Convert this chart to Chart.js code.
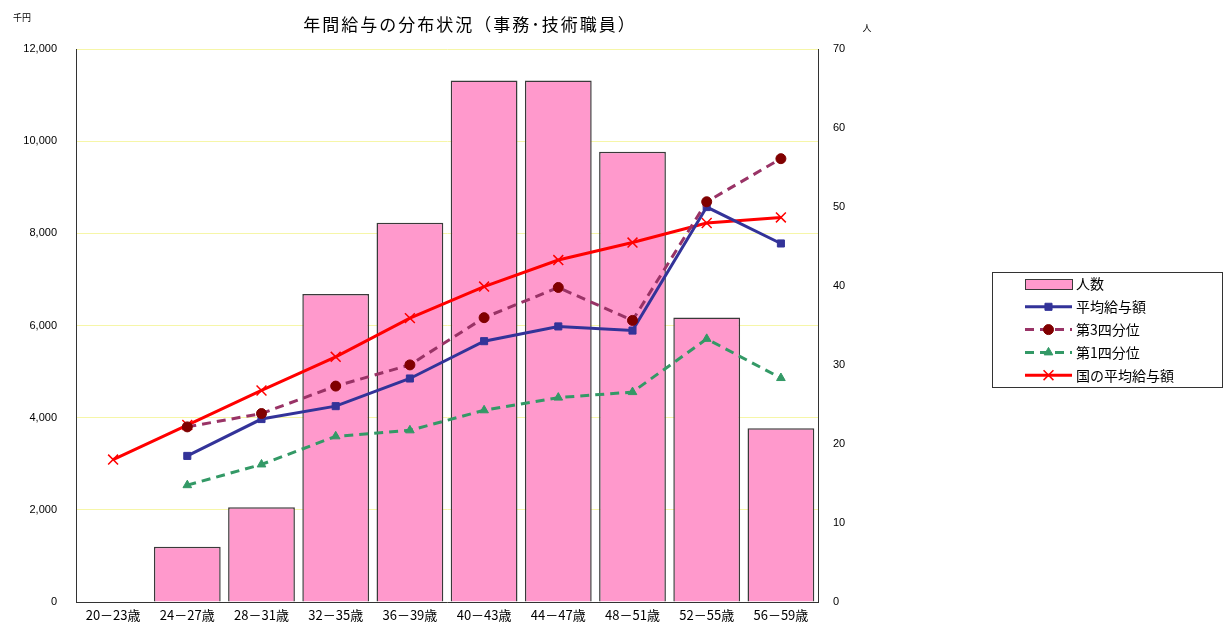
<!DOCTYPE html>
<html lang="ja">
<head>
    <meta charset="UTF-8">
    <title>年間給与の分布状況</title>
    <script src="https://cdn.jsdelivr.net/npm/chart.js"></script>
    <style>
        html, body { margin: 0; padding: 0; background: #ffffff; overflow: hidden; }
        canvas { display: block; }
    </style>
</head>
<body>
    <canvas id="salaryChart" width="1224" height="622"></canvas>
    <script>
        // 年齢区分
        const ageGroups = ['20－23歳', '24－27歳', '28－31歳', '32－35歳', '36－39歳',
                           '40－43歳', '44－47歳', '48－51歳', '52－55歳', '56－59歳'];
        // 人数（右軸）
        const headcount = [null, 7, 12, 39, 48, 66, 66, 57, 36, 22];
        // 給与（千円、左軸）
        const avgSalary = [null, 3170, 3970, 4250, 4850, 5660, 5980, 5890, 8570, 7780];
        const thirdQuartile = [null, 3800, 4090, 4685, 5145, 6170, 6825, 6110, 8685, 9620];
        const firstQuartile = [null, 2535, 2985, 3595, 3725, 4160, 4435, 4555, 5710, 4860];
        const nationalAvg = [3090, 3840, 4590, 5320, 6160, 6845, 7420, 7800, 8225, 8345];
        // 目盛り
        const leftMax = 12000, leftStep = 2000;
        const rightMax = 70, rightStep = 10;

        const jpFont = '"Noto Sans CJK JP", "Noto Sans", sans-serif';
        const numFont = '"Liberation Sans", Arial, sans-serif';

        // タイトル・単位・凡例を描く
        const decorPlugin = {
            id: 'decor',
            afterDraw(chart) {
                const ctx = chart.ctx;
                ctx.save();
                ctx.fillStyle = '#000';
                ctx.textBaseline = 'middle';
                ctx.font = '17px ' + jpFont;
                ctx.letterSpacing = '2px';
                ctx.textAlign = 'center';
                ctx.fillText('年間給与の分布状況（事務･技術職員）', 470, 25);
                ctx.letterSpacing = '0px';
                ctx.font = '9px ' + jpFont;
                ctx.fillText('千円', 22, 18);
                ctx.fillText('人', 867, 28);

                // 凡例
                const bx = 992, by = 272, bw = 230, bh = 115;
                ctx.strokeStyle = '#333';
                ctx.lineWidth = 1;
                ctx.strokeRect(bx + 0.5, by + 0.5, bw, bh);
                ctx.font = '14px ' + jpFont;
                ctx.textAlign = 'left';
                chart.data.datasets.forEach((ds, i) => {
                    const y = by + 12 + i * 22.8;
                    const x0 = 1025, x1 = 1072;
                    if (ds.type === 'bar') {
                        ctx.fillStyle = ds.backgroundColor;
                        ctx.fillRect(x0, y - 5, x1 - x0, 10);
                        ctx.strokeStyle = ds.borderColor;
                        ctx.lineWidth = 1;
                        ctx.strokeRect(x0 + 0.5, y - 4.5, x1 - x0, 10);
                    } else {
                        ctx.strokeStyle = ds.borderColor;
                        ctx.lineWidth = 3;
                        ctx.setLineDash(ds.borderDash || []);
                        ctx.beginPath();
                        ctx.moveTo(x0, y);
                        ctx.lineTo(x1, y);
                        ctx.stroke();
                        ctx.setLineDash([]);
                        ctx.fillStyle = ds.pointBackgroundColor;
                        ctx.strokeStyle = ds.pointBorderColor;
                        ctx.lineWidth = ds.pointBorderWidth || 1;
                        Chart.helpers.drawPoint(ctx, {
                            pointStyle: ds.pointStyle,
                            radius: ds.pointRadius,
                            borderWidth: ctx.lineWidth,
                            rotation: 0
                        }, (x0 + x1) / 2, y);
                    }
                    ctx.fillStyle = '#000';
                    ctx.fillText(ds.label, x1 + 4, y);
                });
                ctx.restore();
            }
        };

        const lineBase = {
            type: 'line',
            yAxisID: 'y',
            borderWidth: 3,
            pointRadius: 5,
            pointBorderWidth: 1,
            spanGaps: false,
            tension: 0
        };

        new Chart(document.getElementById('salaryChart'), {
            data: {
                labels: ageGroups,
                datasets: [
                    {
                        type: 'bar',
                        label: '人数',
                        data: headcount,
                        yAxisID: 'y1',
                        backgroundColor: '#ff99cc',
                        borderColor: '#3a3a3a',
                        borderWidth: 1.5,
                        barPercentage: 0.9,
                        categoryPercentage: 1.0,
                        order: 10
                    },
                    Object.assign({}, lineBase, {
                        label: '平均給与額',
                        data: avgSalary,
                        borderColor: '#333399',
                        pointStyle: 'rect',
                        pointRadius: 5,
                        pointBackgroundColor: '#333399',
                        pointBorderColor: '#333399',
                        order: 2
                    }),
                    Object.assign({}, lineBase, {
                        label: '第3四分位',
                        data: thirdQuartile,
                        borderColor: '#993366',
                        borderDash: [9, 6],
                        pointStyle: 'circle',
                        pointRadius: 5,
                        pointBackgroundColor: '#800000',
                        pointBorderColor: '#800000',
                        order: 1
                    }),
                    Object.assign({}, lineBase, {
                        label: '第1四分位',
                        data: firstQuartile,
                        borderColor: '#339966',
                        borderDash: [9, 6],
                        pointStyle: 'triangle',
                        pointRadius: 5,
                        pointBackgroundColor: '#339966',
                        pointBorderColor: '#339966',
                        order: 3
                    }),
                    Object.assign({}, lineBase, {
                        label: '国の平均給与額',
                        data: nationalAvg,
                        borderColor: '#ff0000',
                        pointStyle: 'crossRot',
                        pointRadius: 7,
                        pointBorderWidth: 1.5,
                        pointBackgroundColor: '#ff0000',
                        pointBorderColor: '#ff0000',
                        order: 4
                    })
                ]
            },
            options: {
                responsive: false,
                animation: false,
                layout: { padding: { top: 49, left: 0, right: 0, bottom: 0 } },
                plugins: {
                    legend: { display: false },
                    tooltip: { enabled: false },
                    title: { display: false }
                },
                scales: {
                    x: {
                        grid: { display: false, drawTicks: false },
                        border: { display: true, color: '#333', width: 1 },
                        ticks: {
                            color: '#000',
                            font: { family: jpFont, size: 13 },
                            padding: 5,
                            maxRotation: 0,
                            autoSkip: false
                        },
                        afterFit(axis) { axis.height = 20; }
                    },
                    y: {
                        position: 'left',
                        min: 0,
                        max: leftMax,
                        grid: { color: '#f6f6a8', drawTicks: true, tickLength: 15, tickColor: 'rgba(0,0,0,0)' },
                        border: { display: true, color: '#333', width: 1 },
                        ticks: {
                            stepSize: leftStep,
                            color: '#000',
                            padding: 4,
                            font: { family: numFont, size: 11 },
                            callback: v => v.toLocaleString('en-US')
                        },
                        afterFit(axis) { axis.width = 76; }
                    },
                    y1: {
                        position: 'right',
                        min: 0,
                        max: rightMax,
                        grid: { display: true, drawOnChartArea: false, tickLength: 11, tickColor: 'rgba(0,0,0,0)' },
                        border: { display: true, color: '#333', width: 1 },
                        ticks: {
                            stepSize: rightStep,
                            color: '#000',
                            padding: 4,
                            font: { family: numFont, size: 11 }
                        },
                        afterFit(axis) { axis.width = 406; }
                    }
                }
            },
            plugins: [decorPlugin]
        });
    </script>
</body>
</html>
